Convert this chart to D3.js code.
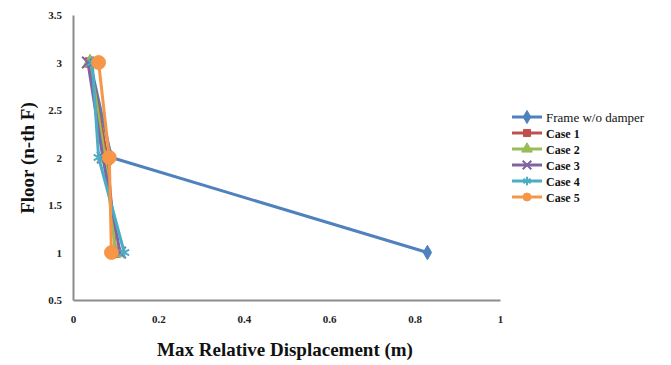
<!DOCTYPE html>
<html lang="en">
<head>
<meta charset="UTF-8">
<title>Max Relative Displacement</title>
<style>
  body { margin: 0; background: #fff; }
  svg { display: block; }
  .tick text { font-family: "Liberation Serif", serif; font-size: 11px; fill: #222; font-weight: bold; }
  .axis-title { font-family: "Liberation Serif", serif; font-weight: bold; fill: #111; }
  .legend text { font-family: "Liberation Serif", serif; font-size: 13px; fill: #111; }
</style>
</head>
<body>
<svg width="671" height="365"></svg>
<script src="https://d3js.org/d3.v7.min.js"></script>
<script>
// floors (y values)
var floors = [3, 2, 1];

// max relative displacement per floor
var frameNoDamper = [0.04, 0.09, 0.83];
var case1 = [0.04, 0.08, 0.10];
var case2 = [0.04, 0.075, 0.10];
var case3 = [0.035, 0.07, 0.11];
var case4 = [0.045, 0.06, 0.12];
var case5 = [0.06, 0.085, 0.09];

var seriesNames = ["Frame w/o damper", "Case 1", "Case 2", "Case 3", "Case 4", "Case 5"];
var seriesColors = ["#4F81BD", "#C0504D", "#9BBB59", "#8064A2", "#4BACC6", "#F79646"];
var seriesSymbols = ["diamond", "square", "triangle", "x", "star", "circle"];
var seriesValues = [frameNoDamper, case1, case2, case3, case4, case5];

var xTicks = [0, 0.2, 0.4, 0.6, 0.8, 1];
var yTicks = [0.5, 1, 1.5, 2, 2.5, 3, 3.5];

var svg = d3.select("svg");

var x = d3.scaleLinear().domain([0, 1]).range([73, 500]);
var y = d3.scaleLinear().domain([0.5, 3.5]).range([300, 15]);

// axes
svg.append("g")
    .attr("transform", "translate(0,300)")
    .call(d3.axisBottom(x).tickValues(xTicks).tickFormat(d3.format("")).tickSize(0).tickPadding(15));
svg.append("g")
    .attr("transform", "translate(73,0)")
    .call(d3.axisLeft(y).tickValues(yTicks).tickFormat(d3.format("")).tickSize(0).tickPadding(11));
svg.selectAll(".domain").attr("stroke", "#8c8c8c").attr("stroke-width", 2);

// axis titles
svg.append("text")
    .attr("class", "axis-title")
    .attr("x", 285).attr("y", 356)
    .attr("text-anchor", "middle")
    .style("font-size", "19px")
    .text("Max Relative Displacement (m)");

svg.append("text")
    .attr("class", "axis-title")
    .attr("transform", "translate(34,158) rotate(-90)")
    .attr("text-anchor", "middle")
    .style("font-size", "19px")
    .text("Floor (n-th F)");

function symbolFor(name) {
  var map = {
    diamond: d3.symbolDiamond, square: d3.symbolSquare, triangle: d3.symbolTriangle,
    x: d3.symbolTimes, star: d3.symbolAsterisk, circle: d3.symbolCircle
  };
  return map[name];
}

var line = d3.line()
    .x(function(d) { return x(d[0]); })
    .y(function(d) { return y(d[1]); });

var plot = svg.append("g");

seriesValues.forEach(function(vals, i) {
  var pts = vals.map(function(v, j) { return [v, floors[j]]; });
  var g = plot.append("g");
  g.append("path")
      .datum(pts)
      .attr("fill", "none")
      .attr("stroke", seriesColors[i])
      .attr("stroke-width", 3)
      .attr("d", line);
  var sym = seriesSymbols[i];
  var open = (sym === "x" || sym === "star");
  g.selectAll("path.mark")
      .data(pts)
      .enter().append("path")
      .attr("class", "mark")
      .attr("transform", function(d) { return "translate(" + x(d[0]) + "," + y(d[1]) + ")"; })
      .attr("d", d3.symbol().type(symbolFor(sym)).size(sym === "circle" ? 150 : (sym === "diamond" ? 60 : 90)))
      .attr("fill", open ? "none" : seriesColors[i])
      .attr("stroke", seriesColors[i])
      .attr("stroke-width", open ? 2 : 1);
});

// legend
var legend = svg.append("g").attr("class", "legend");
seriesNames.forEach(function(name, i) {
  var ly = 117 + i * 16;
  var row = legend.append("g").attr("transform", "translate(512," + ly + ")");
  row.append("line")
      .attr("x1", 0).attr("x2", 30)
      .attr("stroke", seriesColors[i]).attr("stroke-width", 3);
  var sym = seriesSymbols[i];
  var open = (sym === "x" || sym === "star");
  row.append("path")
      .attr("transform", "translate(15,0)")
      .attr("d", d3.symbol().type(symbolFor(sym)).size(50))
      .attr("fill", open ? "none" : seriesColors[i])
      .attr("stroke", seriesColors[i])
      .attr("stroke-width", open ? 2 : 1);
  row.append("text")
      .attr("x", 34).attr("y", 4.5)
      .style("font-weight", i === 0 ? "normal" : "bold")
      .style("font-size", i === 0 ? "13px" : "12px")
      .text(name);
});
</script>
</body>
</html>
